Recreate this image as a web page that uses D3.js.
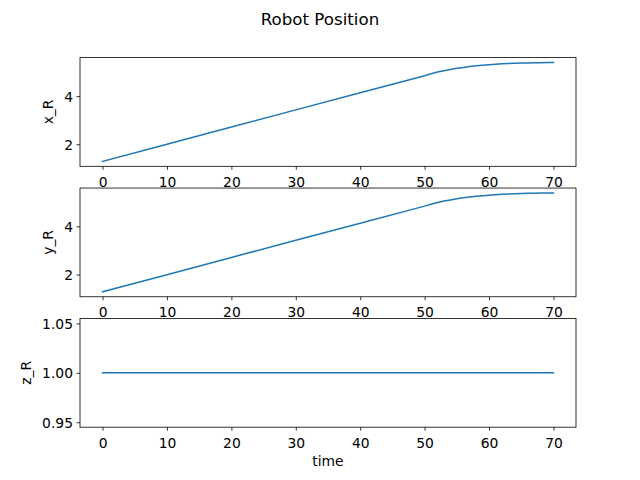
<!DOCTYPE html>
<html>
<head>
<meta charset="utf-8">
<script src="https://cdn.jsdelivr.net/npm/d3@7"></script>
<style>
  html, body { margin: 0; padding: 0; background: #fff; }
  svg { display: block; }
  text { font-family: "DejaVu Sans", sans-serif; fill: #000; }
</style>
</head>
<body>
<svg id="chart" width="640" height="480"></svg>
<script>
// ---- data ----
const title = "Robot Position";
const time = [0, 10, 20, 30, 40, 50, 51, 52, 53, 54, 55, 56, 57, 58, 59, 60, 61, 62, 63, 64, 65, 66, 67, 68, 69, 70];
const xR = [1.29, 2.00, 2.72, 3.43, 4.14, 4.85, 4.93, 5.00, 5.06, 5.11, 5.155, 5.195, 5.23, 5.26, 5.285, 5.307, 5.326, 5.342, 5.355, 5.366, 5.375, 5.382, 5.388, 5.392, 5.395, 5.397];
const yR = [1.28, 1.99, 2.71, 3.42, 4.13, 4.84, 4.92, 4.99, 5.05, 5.10, 5.145, 5.185, 5.22, 5.25, 5.275, 5.297, 5.316, 5.332, 5.345, 5.356, 5.365, 5.372, 5.378, 5.382, 5.385, 5.387];
const zR = [1, 1, 1, 1, 1, 1, 1, 1, 1, 1, 1, 1, 1, 1, 1, 1, 1, 1, 1, 1, 1, 1, 1, 1, 1, 1];
const xTicks = [0, 10, 20, 30, 40, 50, 60, 70];
const yTicksX = [2, 4];
const yTicksY = [2, 4];
const yTicksZ = [0.95, 1.00, 1.05];
const yLabels = ["x_R", "y_R", "z_R"];
const xLabel = "time";

const panels = [
  { values: xR, ticks: yTicksX, fmt: d3.format("d"), label: yLabels[0] },
  { values: yR, ticks: yTicksY, fmt: d3.format("d"), label: yLabels[1] },
  { values: zR, ticks: yTicksZ, fmt: d3.format(".2f"), label: yLabels[2] }
];

// ---- layout ----
const W = 640, H = 480;
const left = 80, right = 576;
const figTop = 57.6, figBottom = 427.2;
const hspace = 0.2;
const axH = (figBottom - figTop) / (3 + 2 * hspace);
const gap = axH * hspace;
const color = "#1f77b4";
const fs = 13.89;

const svg = d3.select("#chart");
svg.append("rect").attr("width", W).attr("height", H).attr("fill", "#fff");

svg.append("text")
  .attr("x", 320).attr("y", 24.5)
  .attr("text-anchor", "middle")
  .style("font-size", "16.67px")
  .text(title);

function padDomain(vals) {
  let lo = d3.min(vals), hi = d3.max(vals);
  if (lo === hi) { const d = Math.abs(lo) * 0.05 || 0.05; lo -= d; hi += d; }
  const r = hi - lo;
  return [lo - 0.05 * r, hi + 0.05 * r];
}

const tPad = (d3.max(time) - d3.min(time)) * 0.05;
const x = d3.scaleLinear().domain([d3.min(time) - tPad, d3.max(time) + tPad]).range([left, right]);

panels.forEach((p, i) => {
  const top = figTop + i * (axH + gap);
  const bottom = top + axH;
  const y = d3.scaleLinear().domain(padDomain(p.values)).range([bottom, top]);
  const g = svg.append("g");

  // line
  const line = d3.line().x((d, k) => x(time[k])).y(d => y(d));
  g.append("path")
    .datum(p.values)
    .attr("d", line)
    .attr("fill", "none")
    .attr("stroke", color)
    .attr("stroke-width", 1.5)
    .attr("stroke-linecap", "square")
    .attr("stroke-linejoin", "round");

  // x axis
  const xa = g.append("g").attr("transform", `translate(0,${bottom})`)
    .call(d3.axisBottom(x).tickValues(xTicks).tickSize(3.5).tickPadding(3.5).tickFormat(d3.format("d")));
  // y axis
  const ya = g.append("g").attr("transform", `translate(${left},0)`)
    .call(d3.axisLeft(y).tickValues(p.ticks).tickSize(3.5).tickPadding(3.5).tickFormat(p.fmt));

  [xa, ya].forEach(a => {
    a.select(".domain").remove();
    a.selectAll(".tick line").attr("stroke", "#000").attr("stroke-width", 0.8);
    a.selectAll(".tick text").attr("fill", "#000")
      .style("font-family", "DejaVu Sans, sans-serif").style("font-size", fs + "px");
  });
  xa.selectAll(".tick text").attr("dy", null).attr("y", 20.5);
  ya.selectAll(".tick text").attr("dy", "0.36em");

  // width of widest y tick label, to place the y label like matplotlib
  let maxW = 0;
  ya.selectAll(".tick text").each(function () {
    maxW = Math.max(maxW, this.getComputedTextLength());
  });

  // spines
  g.append("rect")
    .attr("x", left).attr("y", top)
    .attr("width", right - left).attr("height", bottom - top)
    .attr("fill", "none").attr("stroke", "#000").attr("stroke-width", 0.8);

  // y label
  const lx = left - 7 - maxW - 11.2;
  svg.append("text")
    .attr("transform", `translate(${lx},${(top + bottom) / 2}) rotate(-90)`)
    .attr("text-anchor", "middle")
    .style("font-size", fs + "px")
    .text(p.label);

  if (i === 2) {
    svg.append("text")
      .attr("x", (left + right) / 2).attr("y", 466)
      .attr("text-anchor", "middle")
      .style("font-size", fs + "px")
      .text(xLabel);
  }
});
</script>
</body>
</html>
